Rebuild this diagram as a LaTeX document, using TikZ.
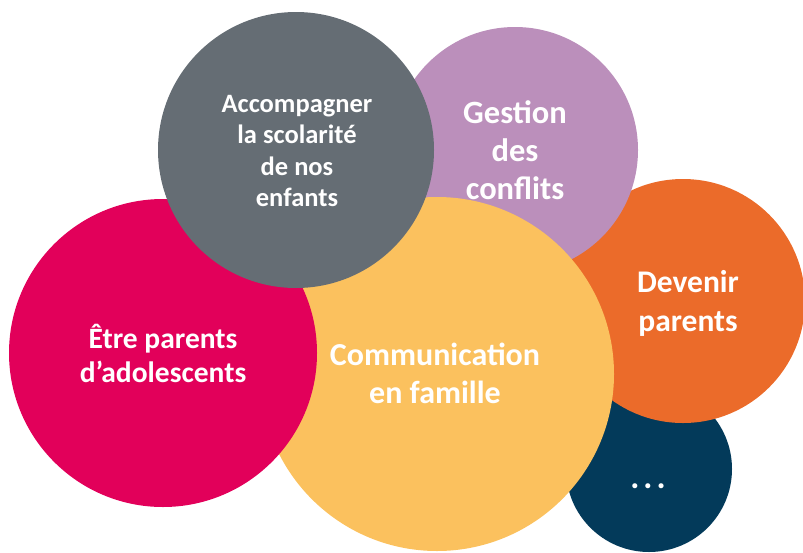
\documentclass[tikz,border=0pt]{standalone}
\usepackage{fontspec}
\setmainfont{Carlito}
\definecolor{cgray}{HTML}{656D74}
\definecolor{cpurple}{HTML}{BB8FBB}
\definecolor{cyellow}{HTML}{FBC15E}
\definecolor{cpink}{HTML}{E2005A}
\definecolor{corange}{HTML}{EB6B2A}
\definecolor{cnavy}{HTML}{033A5A}
\tikzset{
  bubble/.style={circle, inner sep=0pt, draw=none},
  btext/.style 2 args={text=white, align=center, inner sep=0pt, font=\bfseries\fontsize{#1}{#2}\selectfont},
}
\begin{document}
\begin{tikzpicture}[x=1pt,y=-1pt]
\useasboundingbox (0,0) rectangle (803,552);
\clip (0,0) rectangle (803,552);
\node[bubble, fill=cnavy,   minimum size=166pt] (navy)   at (649,469) {};
\node[bubble, fill=corange, minimum size=244pt] (orange) at (683,301) {};
\node[bubble, fill=cpurple, minimum size=246pt] (purple) at (515,150) {};
\node[bubble, fill=cyellow, minimum size=354pt] (yellow) at (437,374) {};
\node[bubble, fill=cpink,   minimum size=308pt] (pink)   at (163,353) {};
\node[bubble, fill=cgray,   minimum size=276pt] (gray)   at (296,150) {};
\node[btext={26.5}{31.5}] (tgray) at (297,151) {Accompagner\\la scolarité\\de nos\\enfants};
\node[btext={32.5}{38}] (tpurple) at (515,150) {Gestion\\des\\conflits};
\node[btext={29.5}{34}] (tpink) at (163,353) {Être parents\\d’adolescents};
\node[btext={32}{38}] (tyellow) at (435,373) {Communication\\en famille};
\node[btext={31.5}{39}] (torange) at (688,303) {Devenir\\parents};
\node[btext={34}{36}] (tnavy) at (648,486) {.\kern4pt.\kern4pt.};
\end{tikzpicture}
\end{document}
